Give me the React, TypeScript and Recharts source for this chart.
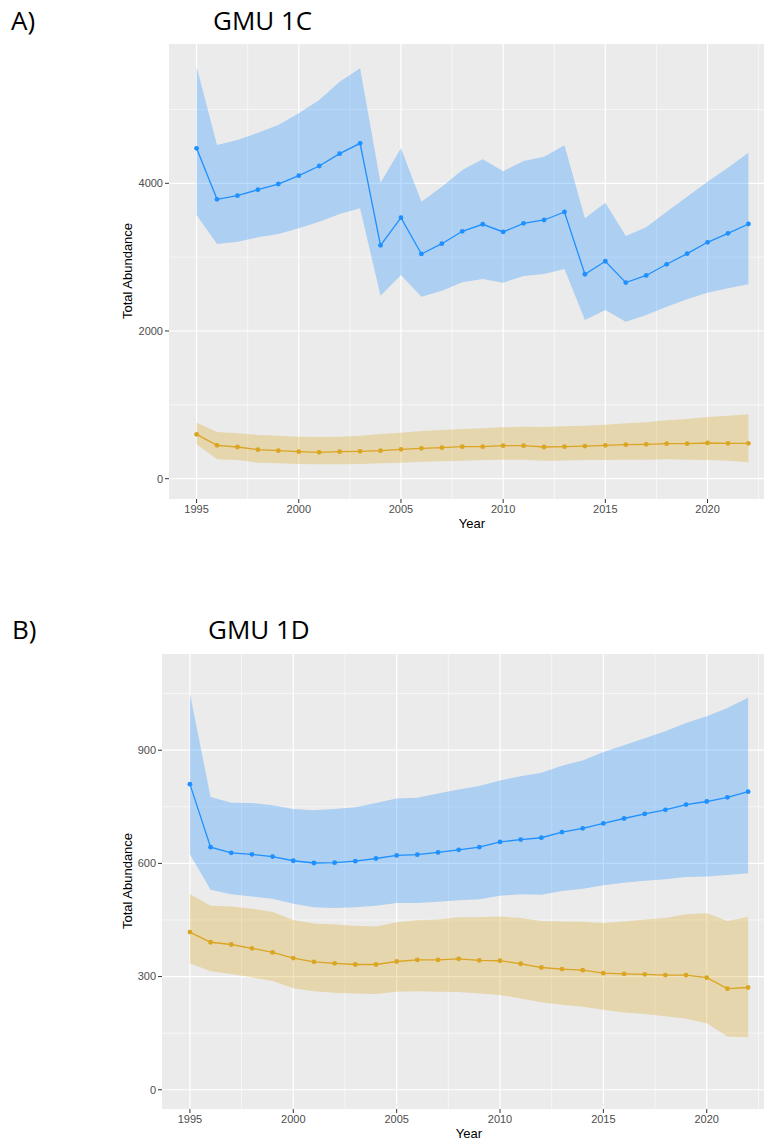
import React from "react";
import {
  ComposedChart,
  Area,
  Line,
  XAxis,
  YAxis,
  CartesianGrid,
} from "recharts";

// Survey years shared by both units
const years = [
  1995, 1996, 1997, 1998, 1999, 2000, 2001, 2002, 2003, 2004, 2005, 2006, 2007, 2008,
  2009, 2010, 2011, 2012, 2013, 2014, 2015, 2016, 2017, 2018, 2019, 2020, 2021, 2022,
];

// GMU 1C
const c1Main = [4474, 3783, 3832, 3914, 3990, 4103, 4234, 4401, 4541, 3160, 3534, 3043, 3182, 3350, 3445, 3341, 3458, 3503, 3611, 2768, 2944, 2655, 2752, 2903, 3047, 3201, 3323, 3449];
const c1MainLo = [3571, 3178, 3209, 3268, 3313, 3390, 3480, 3584, 3661, 2478, 2758, 2465, 2546, 2659, 2704, 2654, 2745, 2772, 2840, 2149, 2284, 2126, 2217, 2329, 2429, 2519, 2578, 2632];
const c1MainHi = [5579, 4519, 4585, 4685, 4790, 4948, 5128, 5376, 5557, 4008, 4474, 3751, 3954, 4180, 4325, 4162, 4302, 4360, 4514, 3526, 3737, 3286, 3404, 3615, 3819, 4022, 4211, 4414];
const c1Sub = [601, 452, 429, 393, 379, 366, 357, 366, 371, 379, 398, 411, 420, 433, 433, 447, 447, 429, 433, 442, 452, 461, 465, 474, 474, 483, 479, 479];
const c1SubLo = [466, 263, 253, 217, 208, 199, 195, 195, 199, 208, 217, 230, 235, 244, 253, 257, 257, 244, 248, 253, 253, 257, 257, 262, 257, 253, 244, 221];
const c1SubHi = [758, 632, 614, 592, 582, 569, 564, 569, 582, 605, 623, 646, 659, 673, 682, 696, 704, 700, 709, 718, 731, 750, 763, 790, 808, 835, 853, 872];

// GMU 1D
const d1Main = [810, 643, 628, 624, 618, 607, 601, 602, 606, 613, 621, 623, 629, 636, 643, 657, 663, 668, 683, 693, 706, 719, 731, 742, 756, 764, 775, 790];
const d1MainLo = [624, 530, 518, 512, 506, 493, 484, 482, 484, 488, 495, 495, 498, 502, 505, 514, 518, 517, 527, 533, 542, 549, 554, 558, 564, 565, 569, 574];
const d1MainHi = [1050, 776, 761, 760, 754, 744, 741, 744, 749, 760, 772, 774, 785, 796, 805, 820, 831, 840, 859, 873, 895, 913, 932, 950, 972, 990, 1012, 1039];
const d1Sub = [418, 391, 385, 375, 364, 349, 339, 335, 332, 332, 340, 344, 344, 347, 343, 342, 334, 324, 320, 317, 309, 307, 306, 304, 304, 297, 268, 271];
const d1SubLo = [335, 314, 307, 298, 288, 269, 261, 257, 255, 254, 260, 261, 260, 259, 255, 251, 242, 232, 225, 220, 212, 205, 201, 195, 188, 176, 141, 139];
const d1SubHi = [519, 488, 486, 480, 471, 450, 441, 438, 435, 433, 444, 449, 451, 457, 457, 459, 455, 447, 446, 445, 442, 446, 451, 455, 465, 468, 447, 458];

const xTicks = [1995, 2000, 2005, 2010, 2015, 2020];
const xMinor = [1997.5, 2002.5, 2007.5, 2012.5, 2017.5, 2022.5];

const c1Ticks = [0, 2000, 4000];
const c1Minor = [1000, 3000, 5000];
const d1Ticks = [0, 300, 600, 900];
const d1Minor = [150, 450, 750, 1050];

const BLUE = "#1E90FF";
const GOLD = "#DAA520";
const TICK = { fontSize: 11, fill: "#4D4D4D", fontFamily: "Liberation Sans, Arial, sans-serif" };

function buildRows(main: number[], mainLo: number[], mainHi: number[], sub: number[], subLo: number[], subHi: number[]) {
  return years.map((year, i) => ({
    year,
    main: main[i],
    mainBand: [mainLo[i], mainHi[i]],
    sub: sub[i],
    subBand: [subLo[i], subHi[i]],
  }));
}

interface PanelProps {
  top: number;
  yAxisWidth: number;
  yDomain: [number, number];
  yTicks: number[];
  yMinor: number[];
  rows: ReturnType<typeof buildRows>;
}

function Panel({ top, yAxisWidth, yDomain, yTicks, yMinor, rows }: PanelProps) {
  return (
    <div style={{ position: "absolute", left: 0, top }}>
      <ComposedChart
        width={790}
        height={545}
        data={rows}
        margin={{ top: 44, right: 14, bottom: 16, left: 0 }}
      >
        <CartesianGrid
          fill="#EBEBEB"
          stroke="#FFFFFF"
          strokeWidth={0.6}
          horizontalValues={yMinor}
          verticalValues={xMinor}
        />
        <CartesianGrid
          stroke="#FFFFFF"
          strokeWidth={1.2}
          horizontalValues={yTicks}
          verticalValues={xTicks}
        />
        <XAxis
          dataKey="year"
          type="number"
          domain={[1993.65, 2023.35]}
          ticks={xTicks}
          allowDataOverflow
          axisLine={false}
          tickSize={4}
          tickMargin={2}
          tickLine={{ stroke: "#333333" }}
          tick={TICK}
          height={30}
        />
        <YAxis
          type="number"
          domain={yDomain}
          ticks={yTicks}
          allowDataOverflow
          axisLine={false}
          tickSize={4}
          tickMargin={2}
          tickLine={{ stroke: "#333333" }}
          tick={TICK}
          width={yAxisWidth}
        />
        <Area
          dataKey="mainBand"
          type="linear"
          stroke="none"
          fill={BLUE}
          fillOpacity={0.3}
          isAnimationActive={false}
        />
        <Area
          dataKey="subBand"
          type="linear"
          stroke="none"
          fill={GOLD}
          fillOpacity={0.3}
          isAnimationActive={false}
        />
        <Line
          dataKey="main"
          type="linear"
          stroke={BLUE}
          strokeWidth={1.3}
          dot={{ r: 2.4, fill: BLUE, stroke: BLUE, strokeWidth: 0 }}
          isAnimationActive={false}
        />
        <Line
          dataKey="sub"
          type="linear"
          stroke={GOLD}
          strokeWidth={1.3}
          dot={{ r: 2.4, fill: GOLD, stroke: GOLD, strokeWidth: 0 }}
          isAnimationActive={false}
        />
      </ComposedChart>
    </div>
  );
}

export default function App() {
  const rowsC = buildRows(c1Main, c1MainLo, c1MainHi, c1Sub, c1SubLo, c1SubHi);
  const rowsD = buildRows(d1Main, d1MainLo, d1MainHi, d1Sub, d1SubLo, d1SubHi);
  const heading = { fontFamily: "Open Sans, sans-serif", fontSize: 26, fill: "#000" };
  const axisTitle = { fontFamily: "Liberation Sans, Arial, sans-serif", fontSize: 13, fill: "#000" };

  return (
    <div
      style={{
        position: "absolute",
        left: 0,
        top: 0,
        width: 764,
        height: 1141,
        overflow: "hidden",
        background: "#FFFFFF",
      }}
    >
      <Panel top={0} yAxisWidth={169} yDomain={[-275, 5886]} yTicks={c1Ticks} yMinor={c1Minor} rows={rowsC} />
      <Panel top={610} yAxisWidth={162} yDomain={[-51, 1155]} yTicks={d1Ticks} yMinor={d1Minor} rows={rowsD} />
      <svg
        width={764}
        height={1141}
        style={{ position: "absolute", left: 0, top: 0, pointerEvents: "none" }}
      >
        <text x={11} y={30} style={heading}>A)</text>
        <text x={213} y={30} style={heading}>GMU 1C</text>
        <text x={472} y={528} textAnchor="middle" style={axisTitle}>Year</text>
        <text transform="translate(132,271) rotate(-90)" textAnchor="middle" style={axisTitle}>
          Total Abundance
        </text>

        <text x={12} y={639} style={heading}>B)</text>
        <text x={208} y={639} style={heading}>GMU 1D</text>
        <text x={469} y={1138} textAnchor="middle" style={axisTitle}>Year</text>
        <text transform="translate(132,881) rotate(-90)" textAnchor="middle" style={axisTitle}>
          Total Abundance
        </text>
      </svg>
    </div>
  );
}
